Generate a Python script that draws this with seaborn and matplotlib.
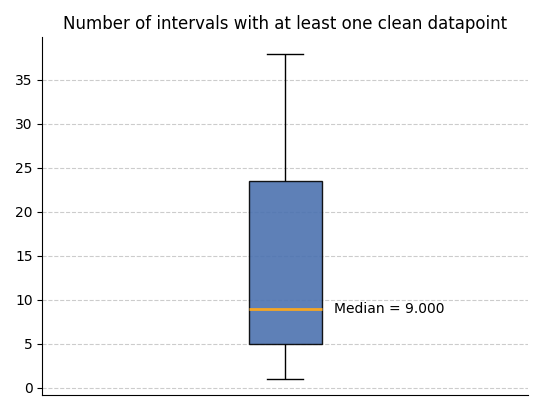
import numpy as np
import pandas as pd
import matplotlib
matplotlib.use("Agg")
import matplotlib.pyplot as plt
import seaborn as sns

# interval counts (chosen so quartiles match the reference)
counts = [1, 5, 9, 23.5, 38]
df = pd.DataFrame({"n": counts})

fig, ax = plt.subplots(figsize=(5.43, 4.12), dpi=100)
sns.boxplot(
    data=df, y="n", width=0.15, ax=ax,
    boxprops=dict(facecolor="#4c72b0", alpha=0.9, edgecolor="black"),
    medianprops=dict(color="#f5a623", linewidth=2),
    whiskerprops=dict(color="black"),
    capprops=dict(color="black"),
    linecolor="black",
)
med = np.median(counts)
ax.text(0.1, med, f"Median = {med:.3f}", va="center", fontsize=10)
ax.set_title("Number of intervals with at least one clean datapoint", fontsize=12)
ax.set_xlabel("")
ax.set_ylabel("")
ax.set_xticks([])
ax.set_xlim(-0.5, 0.5)
ax.grid(axis="y", linestyle="--", color="#cccccc")
ax.set_axisbelow(True)
ax.spines["top"].set_visible(False)
ax.spines["right"].set_visible(False)
plt.tight_layout()
plt.savefig("out.png", dpi=100)
